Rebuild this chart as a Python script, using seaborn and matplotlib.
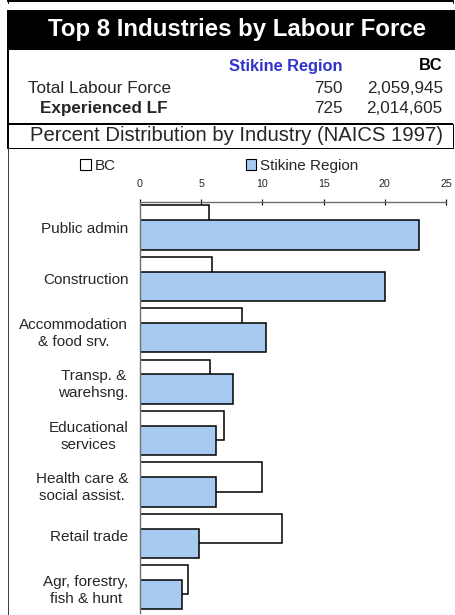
import matplotlib
matplotlib.use("Agg")
import matplotlib.pyplot as plt
from matplotlib.patches import Rectangle, Patch
import seaborn as sns
import pandas as pd

# ---- data ----
industries = ["Public admin", "Construction", "Accommodation\n& food srv.",
              "Transp. &\nwarehsng.", "Educational\nservices",
              "Health care &\nsocial assist.", "Retail trade",
              "Agr, forestry,\nfish & hunt"]
bc_pct = [5.6, 5.9, 8.3, 5.7, 6.9, 10.0, 11.6, 3.9]
stikine_pct = [22.8, 20.0, 10.3, 7.6, 6.2, 6.2, 4.8, 3.4]
series_names = ["BC", "Stikine Region"]
x_ticks = [0, 5, 10, 15, 20, 25]

title = "Top 8 Industries by Labour Force"
subtitle = "Percent Distribution by Industry (NAICS 1997)"
table_rows = ["Total Labour Force", "Experienced LF"]
table_stikine = ["750", "725"]
table_bc = ["2,059,945", "2,014,605"]

# ---- style ----
sns.set_style("white")
plt.rcParams["font.family"] = ["Liberation Sans", "DejaVu Sans"]

W, H = 455, 615
fig = plt.figure(figsize=(W / 100, H / 100), dpi=100)
fig.patch.set_facecolor("white")

# overlay in pixel coordinates for header/table decorations
ov = fig.add_axes([0, 0, 1, 1])
ov.set_xlim(0, W)
ov.set_ylim(H, 0)
ov.axis("off")
px = 0.72  # 1 pixel in points

ov.plot([7, 453], [1, 1], color="black", lw=2 * px, solid_capstyle="butt")
ov.plot([452.5, 452.5], [0, 3], color="black", lw=1 * px)
ov.plot([7.5, 7.5], [0, 3], color="black", lw=1 * px)
ov.add_patch(Rectangle((7, 10), W - 7, 40, facecolor="black", edgecolor="none"))
ov.text(237.5, 29.5, title, color="white", fontsize=17.3, fontweight="bold",
        ha="center", va="center")

blue = "#3333CC"
ov.text(342.7, 66, "Stikine Region", color=blue, fontsize=11.8, fontweight="bold",
        ha="right", va="center")
ov.text(442.7, 66, "BC", color="black", fontsize=11.8, fontweight="bold",
        ha="right", va="center")
row_y = [88.5, 108.5]
row_x = [100, 104]
row_weight = ["normal", "bold"]
for lab, s, b, y, x, w in zip(table_rows, table_stikine, table_bc, row_y, row_x, row_weight):
    ov.text(x, y, lab, fontsize=12.3, fontweight=w, ha="center", va="center")
    ov.text(342.7, y, s, fontsize=12.3, ha="right", va="center")
    ov.text(442.7, y, b, fontsize=12.3, ha="right", va="center")

ov.plot([7, 453], [124, 124], color="black", lw=2 * px, solid_capstyle="butt")
ov.plot([7, 453], [147.5, 147.5], color="black", lw=1 * px, solid_capstyle="butt")
ov.plot([452.5, 452.5], [124, 147.5], color="black", lw=1 * px)
ov.plot([8, 8], [50, 147.5], color="black", lw=2 * px)
ov.plot([7.5, 7.5], [147.5, H], color="#404040", lw=1 * px)
ov.text(236.5, 135.5, subtitle, fontsize=14.6, ha="center", va="center")

# ---- chart ----
df = pd.DataFrame({
    "Industry": industries * 2,
    "Percent": bc_pct + stikine_pct,
    "Series": [series_names[0]] * len(industries) + [series_names[1]] * len(industries),
})
colors = {"BC": "white", "Stikine Region": "#A6CAF0"}

ax = fig.add_axes([140 / W, 1 - 613 / H, 306 / W, (613 - 201.7) / H])
sns.barplot(data=df, y="Industry", x="Percent", hue="Series", hue_order=series_names,
            palette=colors, orient="h", width=0.86, dodge=True, saturation=1,
            edgecolor="black", linewidth=1.1, errorbar=None, legend=False, ax=ax)

# overlapping bars like the original (50% overlap)
for p in ax.patches:
    c = p.get_y() + p.get_height() / 2
    i = round(c)
    newc = i - 0.145 if c < i else i + 0.145
    p.set_height(0.57)
    p.set_y(newc - 0.285)

ax.set_xlim(0, 25)
ax.set_ylim(len(industries) - 0.5, -0.5)
ax.set_xticks(x_ticks)
ax.set_xticklabels([str(t) for t in x_ticks])
ax.xaxis.tick_top()
ax.set_xlabel("")
ax.set_ylabel("")
ax.tick_params(axis="x", direction="inout", length=4, width=0.8, color="black",
               labelsize=7.7, pad=7)
ax.tick_params(axis="y", length=0, labelsize=11, pad=8.4)
for lab in ax.get_yticklabels():
    lab.set_multialignment("center")
    lab.set_linespacing(1.3)
for s in ["right", "bottom"]:
    ax.spines[s].set_visible(False)
for s in ["top", "left"]:
    ax.spines[s].set_color("#707070")
    ax.spines[s].set_linewidth(1.0)
ax.set_facecolor("white")

handles = [Patch(facecolor=colors[n], edgecolor="black", linewidth=0.8) for n in series_names]
fig.legend(handles, series_names, ncol=2, loc="center left",
           bbox_to_anchor=(80 / W, 1 - 165.7 / H), frameon=False, fontsize=11,
           handlelength=0.7, handleheight=0.7, handletextpad=0.25,
           columnspacing=8.5, borderpad=0, borderaxespad=0)

fig.savefig("out.png", dpi=100, facecolor="white")
